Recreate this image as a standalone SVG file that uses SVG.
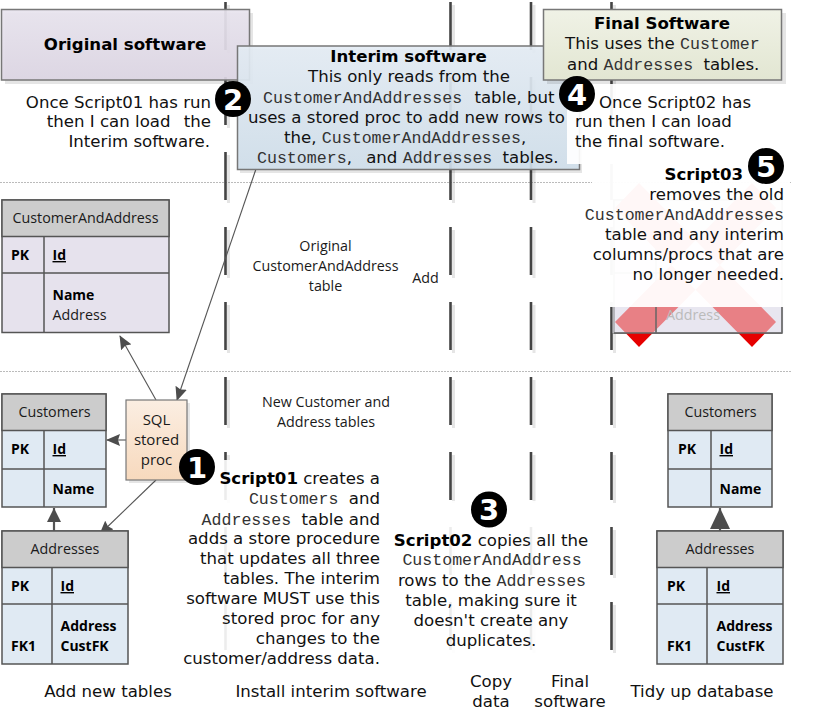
<svg xmlns="http://www.w3.org/2000/svg" width="814" height="720" viewBox="0 0 814 720">
<defs>
<linearGradient id="gp" x1="0" y1="0" x2="0" y2="1"><stop offset="0" stop-color="#e8e4ee"/><stop offset="1" stop-color="#dcd5e3"/></linearGradient>
<linearGradient id="gb" x1="0" y1="0" x2="0" y2="1"><stop offset="0" stop-color="#e4ecf4"/><stop offset="1" stop-color="#cfdeea"/></linearGradient>
<linearGradient id="gg" x1="0" y1="0" x2="0" y2="1"><stop offset="0" stop-color="#f0f2e6"/><stop offset="1" stop-color="#e2e6d2"/></linearGradient>
<linearGradient id="go" x1="0" y1="0" x2="0" y2="1"><stop offset="0" stop-color="#fbeee2"/><stop offset="1" stop-color="#f7d9bd"/></linearGradient>
<marker id="a" markerUnits="userSpaceOnUse" viewBox="0 0 14 12" refX="13" refY="6" markerWidth="14" markerHeight="12" orient="auto"><path d="M0 0L14 6L0 12L2 6Z" fill="#4d4d4d"/></marker>
<marker id="a2" markerUnits="userSpaceOnUse" viewBox="0 0 14 14" refX="14" refY="7" markerWidth="14" markerHeight="14" orient="auto"><path d="M0 0L14 7L0 14Z" fill="#4d4d4d"/></marker>
<marker id="a3" markerUnits="userSpaceOnUse" viewBox="0 0 21 20" refX="21" refY="10" markerWidth="21" markerHeight="20" orient="auto"><path d="M0 0L21 10L0 20Z" fill="#4d4d4d"/></marker>
</defs>
<style>
text{font-family:"DejaVu Sans",Verdana,sans-serif;font-size:16.6px;fill:#111}
.m{font-family:"Liberation Mono","Courier New",monospace;font-size:16.6px;fill:#333}
.b{font-weight:bold;fill:#000}
.e{text-anchor:end}.c{text-anchor:middle}
.t{font-family:"Open Sans","Noto Sans",sans-serif;font-size:14.3px;fill:#1a1a1a}
.tb{font-family:"Open Sans","Noto Sans",sans-serif;font-size:14px;font-weight:bold;fill:#000}
.box{stroke:#777;stroke-width:1.5}
.s{fill:#000;opacity:.1}
.g{fill:#cccccc;stroke:#555;stroke-width:1.5}
.p{fill:#e6e2ed;stroke:#555;stroke-width:1.5}
.u{fill:#e0eaf3;stroke:#555;stroke-width:1.5}
.d{stroke:#444;stroke-width:2.600;stroke-dasharray:48 27;fill:none}
.ds{stroke:#000;stroke-opacity:.1;stroke-width:3;stroke-dasharray:48 27;fill:none}
.h{stroke:#bbb;stroke-width:1;stroke-dasharray:2 1;fill:none}
.n{fill:#fff;font-family:"DejaVu Sans",sans-serif;font-weight:bold;font-size:29px;text-anchor:middle}
</style>
<g id="guides">
<path class="h" d="M0 182.500H792M0 371.500H792"/>
<path class="ds" d="M228.500 5V653M453.500 5V653M534 5V653M614.500 5V653"/>
<path class="d" d="M225.500 2V650M450.500 2V650M531 2V650M611.500 2V650"/>
</g>
<g id="removed-table">
<rect class="p" x="614" y="200" width="168" height="133"/>
<rect class="g" x="614" y="200" width="168" height="36.500"/>
<path d="M614 273H782M656 236.500V333" stroke="#555" stroke-width="1.500"/>
<path d="M615 322L639 347L776 208L752 183ZM776 322L752 347L615 208L639 183Z" fill="#e60000"/>
</g>
<g id="whitebox" fill="#fff">
<rect x="592" y="150" width="198" height="157" fill-opacity=".97"/>
<rect x="612.500" y="307" width="171" height="26" fill="#eaeaf2" fill-opacity=".55"/>
<rect x="180" y="460" width="203" height="208" fill-opacity=".9"/>
<rect x="392" y="501" width="200" height="152" fill-opacity=".9"/>
</g>
<g id="removed-table-text">
<path d="M656 307V333M614 333H782M782 307V333" stroke="#666" stroke-width="1.500" fill="none"/>
<text x="693" y="320" class="c t" style="fill:#bbb">Address</text>
</g>
<g id="connectors" fill="none" stroke="#555" stroke-width="1.100">
<path d="M256 169L177 400" marker-end="url(#a)"/>
<path d="M156 400L120 336" marker-end="url(#a)"/>
<path d="M126 440H107" marker-end="url(#a)"/>
<path d="M156 480L100 534" marker-end="url(#a)"/>
<path d="M54 531V508" stroke-width="2.200" marker-end="url(#a2)"/>
<path d="M720 531V508" stroke-width="2.200" marker-end="url(#a3)"/>
</g>
<g id="original-software">
<rect class="s" x="5" y="13" width="248" height="71"/>
<rect x="1.500" y="9.500" width="248" height="70.500" fill="url(#gp)" class="box" fill-opacity=".93"/>
<text x="125" y="50" class="c b">Original software</text>
<text x="211" y="108" class="e">Once Script01 has run</text>
<text x="211" y="127" class="e">then I can load <tspan dx="8">the</tspan></text>
<text x="210" y="147" class="e">Interim software.</text>
</g>
<g id="interim-software">
<rect class="s" x="240" y="49" width="342" height="124"/>
<rect x="237.500" y="46" width="342" height="123.500" fill="url(#gb)" class="box" fill-opacity=".92"/>
<rect x="567" y="84" width="195" height="80" fill="#fff" fill-opacity=".92"/>
<text x="408.500" y="62" class="c b">Interim software</text>
<text x="409" y="82" class="c">This only reads from the</text>
<text x="263" y="103"><tspan class="m">CustomerAndAddresses</tspan><tspan dx="7"> table, but</tspan></text>
<text x="248" y="123">uses a stored proc to add new rows to</text>
<text x="284" y="143">the, <tspan class="m">CustomerAndAddresses</tspan>,</text>
<text x="257" y="163"><tspan class="m">Customers</tspan>,<tspan dx="9"> and </tspan><tspan class="m">Addresses</tspan><tspan dx="5"> tables.</tspan></text>
</g>
<g id="final-software">
<rect class="s" x="547" y="13" width="239" height="71"/>
<rect x="543.500" y="9.500" width="238" height="70.500" fill="url(#gg)" class="box"/>
<text x="662" y="29" class="c b">Final Software</text>
<text x="565" y="49">This uses the <tspan class="m">Customer</tspan></text>
<text x="567" y="70">and <tspan class="m">Addresses</tspan><tspan dx="5"> tables.</tspan></text>
<text x="599" y="108">Once Script02 has</text>
<text x="575" y="127">run then I can load</text>
<text x="575" y="147">the final software.</text>
</g>
<g id="table-customerandaddress">
<rect class="p" x="2" y="200" width="167" height="132.500"/>
<rect class="g" x="2" y="200" width="167" height="36.500"/>
<path d="M2 273H169M44 236.500V332.500" stroke="#555" stroke-width="1.500"/>
<text x="85.500" y="223" class="c t">CustomerAndAddress</text>
<text x="11" y="260" class="tb">PK</text>
<text x="52.500" y="260" class="tb" text-decoration="underline">Id</text>
<text x="52.500" y="300" class="tb">Name</text>
<text x="52.500" y="320" class="t">Address</text>
</g>
<g id="table-customers-left">
<rect class="u" x="2" y="394" width="104" height="113"/>
<rect class="g" x="2" y="394" width="104" height="36.500"/>
<path d="M2 469H106M44 430.500V507" stroke="#555" stroke-width="1.500"/>
<text x="54.500" y="417" class="c t">Customers</text>
<text x="11" y="454" class="tb">PK</text>
<text x="52.500" y="454" class="tb" text-decoration="underline">Id</text>
<text x="52.500" y="494" class="tb">Name</text>
</g>
<g id="table-addresses-left">
<rect class="u" x="2" y="531" width="126" height="133"/>
<rect class="g" x="2" y="531" width="126" height="36.500"/>
<path d="M2 604H128M52 567.500V664" stroke="#555" stroke-width="1.500"/>
<text x="65" y="554" class="c t">Addresses</text>
<text x="11" y="591" class="tb">PK</text>
<text x="60.500" y="591" class="tb" text-decoration="underline">Id</text>
<text x="60.500" y="631" class="tb">Address</text>
<text x="60.500" y="651" class="tb">CustFK</text>
<text x="11" y="651" class="tb">FK1</text>
</g>
<g id="table-customers-right">
<rect class="u" x="668" y="394" width="104" height="113"/>
<rect class="g" x="668" y="394" width="104" height="36.500"/>
<path d="M668 469H772M711 430.500V507" stroke="#555" stroke-width="1.500"/>
<text x="720.500" y="417" class="c t">Customers</text>
<text x="678" y="454" class="tb">PK</text>
<text x="719.500" y="454" class="tb" text-decoration="underline">Id</text>
<text x="719.500" y="494" class="tb">Name</text>
</g>
<g id="table-addresses-right">
<rect class="u" x="657" y="531" width="126" height="133"/>
<rect class="g" x="657" y="531" width="126" height="36.500"/>
<path d="M657 604H783M707 567.500V664" stroke="#555" stroke-width="1.500"/>
<text x="720" y="554" class="c t">Addresses</text>
<text x="667" y="591" class="tb">PK</text>
<text x="716.500" y="591" class="tb" text-decoration="underline">Id</text>
<text x="716.500" y="631" class="tb">Address</text>
<text x="716.500" y="651" class="tb">CustFK</text>
<text x="667" y="651" class="tb">FK1</text>
</g>
<g id="sql-proc">
<rect class="s" x="129" y="403" width="61" height="80"/>
<rect x="126" y="400" width="61" height="80" fill="url(#go)" stroke="#777" stroke-width="1.200"/>
<text x="156.500" y="425" class="c t" style="font-size:15px">SQL</text>
<text x="156.500" y="445" class="c t" style="font-size:15px">stored</text>
<text x="156.500" y="465" class="c t" style="font-size:15px">proc</text>
</g>
<g id="labels">
<text x="325.500" y="251" class="c t">Original</text>
<text x="325.500" y="271" class="c t">CustomerAndAddress</text>
<text x="325.500" y="291" class="c t">table</text>
<text x="425.500" y="283" class="c t">Add</text>
<text x="326" y="407" class="c t">New Customer and</text>
<text x="326" y="427" class="c t">Address tables</text>
<text x="380" y="484" class="e"><tspan class="b">Script01</tspan> creates a</text>
<text x="380" y="504" class="e"><tspan class="m">Customers</tspan><tspan dx="5"> and</tspan></text>
<text x="380" y="525" class="e"><tspan class="m">Addresses</tspan><tspan dx="5"> table and</tspan></text>
<text x="380" y="544" class="e">adds a store procedure</text>
<text x="380" y="564" class="e">that updates all three</text>
<text x="380" y="584" class="e">tables. The interim</text>
<text x="380" y="604" class="e">software MUST use this</text>
<text x="380" y="624" class="e">stored proc for any</text>
<text x="380" y="644" class="e">changes to the</text>
<text x="380" y="664" class="e">customer/address data.</text>
<text x="491" y="546" class="c"><tspan class="b">Script02</tspan> copies all the</text>
<text x="492" y="565" class="c m">CustomerAndAddress</text>
<text x="492" y="586" class="c">rows to the <tspan class="m">Addresses</tspan></text>
<text x="491" y="606" class="c">table, making sure it</text>
<text x="491" y="626" class="c">doesn't create any</text>
<text x="491" y="646" class="c">duplicates.</text>
<text x="743" y="180" class="e b">Script03</text>
<text x="784" y="200" class="e">removes the old</text>
<text x="784" y="220" class="e m">CustomerAndAddresses</text>
<text x="784" y="240" class="e">table and any interim</text>
<text x="784" y="260" class="e">columns/procs that are</text>
<text x="784" y="280" class="e">no longer needed.</text>
<text x="108" y="697" class="c">Add new tables</text>
<text x="331" y="697" class="c">Install interim software</text>
<text x="491" y="687" class="c">Copy</text>
<text x="491" y="707" class="c">data</text>
<text x="570" y="687" class="c">Final</text>
<text x="570" y="707" class="c">software</text>
<text x="702" y="697" class="c">Tidy up database</text>
</g>
<g id="badge-1"><circle cx="197" cy="467" r="18"/><text x="197" y="477.500" class="n">1</text></g>
<g id="badge-2"><circle cx="233" cy="99" r="18"/><text x="233" y="109.500" class="n">2</text></g>
<g id="badge-3"><circle cx="489" cy="509.500" r="18"/><text x="489" y="520" class="n">3</text></g>
<g id="badge-4"><circle cx="577" cy="94" r="18"/><text x="577" y="104.500" class="n">4</text></g>
<g id="badge-5"><circle cx="766" cy="166" r="18"/><text x="766" y="176.500" class="n">5</text></g>
</svg>
